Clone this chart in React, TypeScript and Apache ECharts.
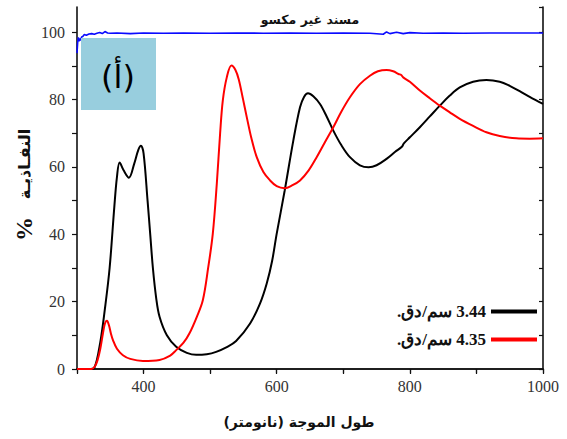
import React, { useEffect, useRef } from "react";
import * as echarts from "echarts";

const RLE = "\u202B";
const PDF = "\u202C";

const blackX = [300, 320, 326, 335, 342, 349, 356, 360, 364, 370, 378, 386, 392, 396, 400, 406, 410, 414, 419, 424, 435, 449, 465, 479, 495, 509, 525, 539, 560, 575, 585, 593, 600, 612, 625, 635, 641, 647, 655, 665, 675, 685, 697, 710, 725, 738, 750, 765, 778, 788, 791, 800, 815, 830, 845, 860, 875, 895, 915, 935, 950, 965, 980, 1000];
const blackY = [0, 0, 0.3, 8, 18, 30, 48, 57, 61.3, 59, 56.8, 61, 65, 66.3, 64, 50, 40, 30, 21, 15.5, 10, 6.6, 4.8, 4.2, 4.4, 5.1, 6.5, 8.3, 13.5, 19.5, 25.4, 32, 40.2, 53, 67.9, 77.7, 80.8, 81.9, 81, 78.7, 75, 70.8, 66.5, 62.9, 60.5, 59.9, 60.5, 62.4, 64.5, 66, 67, 68.8, 71.8, 75, 78.2, 81.2, 83.6, 85.3, 85.8, 85.3, 84.1, 82.5, 80.8, 78.7];

const redX = [300, 322, 327, 331, 335, 339, 342, 345, 348, 351, 354, 360, 369, 380, 399, 424, 440, 449, 460, 469, 480, 489, 497, 504, 510, 515, 519, 525, 532, 538, 543, 549, 555, 562, 570, 580, 590, 600, 612, 623, 635, 648, 660, 672, 685, 697, 710, 725, 740, 752, 765, 775, 783, 787, 790, 800, 815, 830, 845, 860, 875, 895, 915, 935, 960, 980, 1000];
const redY = [0, 0, 0.8, 2.7, 6, 10.6, 13.5, 14.3, 13, 10.5, 8.6, 6, 4.1, 3, 2.4, 2.7, 4, 5.6, 7.8, 10.6, 15.5, 20.4, 30, 40.2, 55, 70, 79.7, 86.6, 90.1, 88.8, 86, 80.5, 74.8, 68.5, 62.9, 58.5, 56, 54.3, 53.7, 54.5, 56, 59, 62.9, 67.2, 71.8, 76.4, 80.7, 84.6, 87.1, 88.4, 88.8, 88.4, 87.6, 87.3, 86.6, 85.3, 82.7, 80.4, 78.2, 76.2, 74.3, 72.2, 70.3, 69.2, 68.5, 68.4, 68.5];

const blueX = [300, 301, 302, 303, 304, 305, 307, 309, 311, 314, 318, 322, 326, 330, 334, 338, 342, 346, 350, 360, 380, 400, 430, 460, 500, 540, 580, 620, 660, 700, 740, 760, 765, 770, 780, 790, 800, 820, 850, 880, 920, 960, 1000];
const blueY = [93.8, 97, 98.5, 97.3, 98.2, 97.6, 98.6, 98.8, 99.3, 99.1, 99.5, 99.6, 99.4, 99.7, 99.9, 99.6, 100.2, 99.8, 99.7, 99.8, 99.6, 99.8, 99.7, 99.8, 99.7, 99.8, 99.7, 99.8, 99.7, 99.8, 99.7, 99.4, 100.1, 99.6, 100, 99.6, 99.9, 99.7, 99.8, 99.7, 99.8, 99.8, 99.8];

const xTickLabels = [400, 600, 800, 1000];
const yTickLabels = [0, 20, 40, 60, 80, 100];

const seriesNames = [RLE + "3.44 سم/دق." + PDF, RLE + "4.35 سم/دق." + PDF];
const topLabel = "مسند غير مكسو";
const panelLabel = "(أ)";
const xTitle = RLE + "طول الموجة (نانومتر)" + PDF;
const yTitleWord = "النفـاذيـة";

const zip = (xs: number[], ys: number[]) => xs.map((x, i) => [x, ys[i]]);

export default function App() {
  const ref = useRef<HTMLDivElement>(null);
  useEffect(() => {
    if (!ref.current) return;
    const chart = echarts.init(ref.current, null, { renderer: "svg" });
    const serif = "Liberation Serif";
    const arabic = "DejaVu Sans";
    const axisLine = { show: true, lineStyle: { color: "#111", width: 1.6 } };
    chart.setOption({
      animation: false,
      backgroundColor: "#fff",
      grid: { left: 77, right: 24, top: 7, bottom: 70, containLabel: false },
      xAxis: [
        {
          type: "value", min: 300, max: 1000, interval: 100,
          axisLine, splitLine: { show: false },
          axisTick: { show: true, inside: false, length: 5, lineStyle: { color: "#111", width: 1.2 } },
          axisLabel: {
            color: "#333", fontFamily: serif, fontSize: 16, margin: 9,
            formatter: (v: number) => (xTickLabels.includes(v) ? String(v) : ""),
          },
        },
        {
          type: "value", position: "top", min: 300, max: 1000, interval: 100,
          axisLine, splitLine: { show: false },
          axisTick: { show: true, inside: true, length: 4, lineStyle: { color: "#111", width: 1.2 } },
          axisLabel: { show: false },
        },
      ],
      yAxis: [
        {
          type: "value", min: 0, max: 107.5, interval: 10,
          axisLine, splitLine: { show: false },
          axisTick: { show: true, inside: false, length: 5, lineStyle: { color: "#111", width: 1.2 } },
          axisLabel: {
            color: "#333", fontFamily: serif, fontSize: 16, margin: 12,
            showMaxLabel: false,
            formatter: (v: number) => (yTickLabels.includes(v) ? String(v) : ""),
          },
        },
        {
          type: "value", position: "right", min: 0, max: 107.5, interval: 10,
          axisLine, splitLine: { show: false },
          axisTick: { show: true, inside: true, length: 4, lineStyle: { color: "#111", width: 1.2 } },
          axisLabel: { show: false },
        },
      ],
      legend: {
        orient: "vertical", align: "right", right: 25, top: 298, itemGap: 11,
        itemWidth: 46, itemHeight: 4, icon: "rect",
        data: seriesNames,
        textStyle: { fontFamily: serif, fontWeight: "bold", fontSize: 17, color: "#111" },
      },
      series: [
        {
          name: "blue", type: "line", data: zip(blueX, blueY), showSymbol: false,
          lineStyle: { color: "#0a0aff", width: 1.6 }, itemStyle: { color: "#0a0aff" }, z: 1,
        },
        {
          name: seriesNames[0], type: "line", data: zip(blackX, blackY), showSymbol: false, smooth: 0.35,
          lineStyle: { color: "#000", width: 2 }, itemStyle: { color: "#000" }, z: 2,
        },
        {
          name: seriesNames[1], type: "line", data: zip(redX, redY), showSymbol: false, smooth: 0.35,
          lineStyle: { color: "#ff0000", width: 2 }, itemStyle: { color: "#ff0000" }, z: 3,
        },
      ],
      graphic: [
        { type: "rect", shape: { x: 81, y: 38, width: 75, height: 72 }, style: { fill: "#98cede" }, z: 10 },
        {
          type: "text", x: 118, y: 77, z: 11,
          style: { text: panelLabel, fontSize: 32, fontFamily: arabic, fill: "#000", align: "center", verticalAlign: "middle" },
        },
        {
          type: "text", x: 310, y: 19, z: 11,
          style: { text: topLabel, fontSize: 12.5, fontWeight: "bold", fontFamily: arabic, fill: "#111", align: "center", verticalAlign: "middle" },
        },
        {
          type: "text", x: 299, y: 422, z: 11,
          style: { text: xTitle, fontSize: 14, fontWeight: "bold", fontFamily: arabic, fill: "#111", align: "center", verticalAlign: "middle" },
        },
        {
          type: "text", x: 24, y: 164, rotation: Math.PI / 2, z: 11,
          style: { text: yTitleWord, fontSize: 16, fontWeight: "bold", fontFamily: arabic, fill: "#111", align: "center", verticalAlign: "middle" },
        },
        {
          type: "text", x: 24, y: 229, rotation: Math.PI / 2, z: 11,
          style: { text: "%", fontSize: 24, fontWeight: "bold", fontFamily: serif, fill: "#111", align: "center", verticalAlign: "middle" },
        },
      ],
    });
    return () => chart.dispose();
  }, []);
  return <div ref={ref} style={{ position: "absolute", left: 0, top: 0, width: 567, height: 439 }} />;
}
